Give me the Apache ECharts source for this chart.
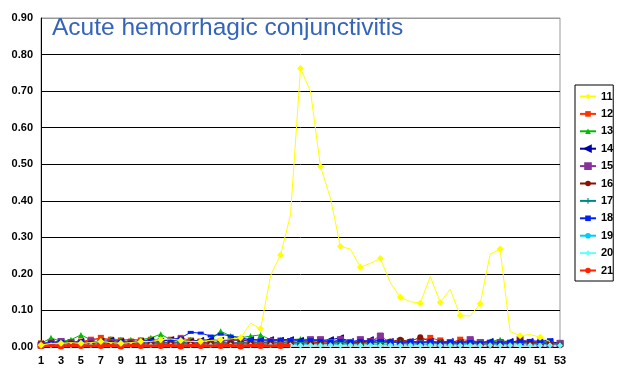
<!DOCTYPE html>
<html><head><meta charset="utf-8">
<script src="https://cdn.jsdelivr.net/npm/echarts@6/dist/echarts.min.js"></script>
<style>html,body{margin:0;padding:0;background:#fff}#c{width:620px;height:384px}</style>
</head><body><div id="c"></div>
<script>
const weeks = Array.from({length:53},(_,i)=>String(i+1));
const title = "Acute hemorrhagic conjunctivitis";
const seriesNames = ["11","12","13","14","15","16","17","18","19","20","21"];
const s11 = [0.005,0.01,0.01,0.012,0.01,0.012,0.015,0.012,0.01,0.012,0.015,0.015,0.02,0.022,0.018,0.015,0.015,0.018,0.02,0.022,0.025,0.065,0.05,0.195,0.252,0.362,0.762,0.70,0.494,0.407,0.275,0.268,0.218,0.229,0.242,0.176,0.136,0.124,0.12,0.193,0.122,0.158,0.086,0.085,0.118,0.254,0.268,0.042,0.031,0.034,0.027,0.015,null];
const s12 = [0.01,0.012,0.015,0.012,0.015,0.02,0.025,0.02,0.018,0.015,0.018,0.02,0.015,0.02,0.025,0.018,0.015,0.012,0.015,0.018,0.02,0.015,0.012,0.015,0.018,0.015,0.012,0.015,0.01,0.012,0.015,0.01,0.012,0.015,0.01,0.012,0.015,0.012,0.018,0.025,0.018,0.012,0.02,0.018,0.01,0.012,0.01,0.012,0.015,0.012,0.015,0.012,0.008];
const s13 = [0.01,0.025,0.015,0.02,0.033,0.02,0.02,0.022,0.02,0.02,0.02,0.025,0.035,0.02,0.015,0.02,0.015,0.02,0.043,0.03,0.025,0.03,0.033,0.02,0.02,0.02,0.022,0.02,0.015,0.015,0.012,0.015,0.012,0.015,0.012,0.015,0.01,0.012,0.015,0.01,0.012,0.01,0.012,0.015,0.012,0.015,0.02,0.012,0.015,0.012,0.01,0.012,0.01];
const s14 = [0.008,0.012,0.015,0.012,0.015,0.012,0.015,0.018,0.015,0.012,0.015,0.018,0.015,0.02,0.018,0.015,0.018,0.02,0.018,0.02,0.018,0.02,0.018,0.02,0.018,0.02,0.018,0.015,0.018,0.02,0.025,0.015,0.012,0.02,0.018,0.015,0.012,0.015,0.012,0.015,0.012,0.015,0.012,0.015,0.012,0.015,0.012,0.015,0.012,0.015,0.012,0.015,0.01];
const s15 = [0.005,0.01,0.015,0.012,0.01,0.015,0.01,0.012,0.01,0.012,0.01,0.012,0.01,0.015,0.012,0.01,0.012,0.01,0.012,0.01,0.012,0.01,0.012,0.015,0.012,0.015,0.012,0.02,0.02,0.012,0.02,0.012,0.02,0.015,0.03,0.012,0.015,0.012,0.015,0.012,0.01,0.012,0.01,0.02,0.012,0.01,0.012,0.01,0.02,0.012,0.01,0.008,0.01];
const s16 = [0.008,0.01,0.012,0.01,0.012,0.01,0.012,0.01,0.012,0.01,0.012,0.01,0.012,0.01,0.012,0.01,0.012,0.01,0.012,0.01,0.012,0.01,0.012,0.01,0.012,0.01,0.012,0.01,0.012,0.01,0.012,0.01,0.012,0.015,0.012,0.015,0.02,0.015,0.027,0.015,0.012,0.01,0.012,0.01,0.008,0.005,0.008,0.01,0.02,0.012,0.01,0.008,0.005];
const s17 = [0.008,0.01,0.012,0.01,0.008,0.01,0.012,0.01,0.008,0.01,0.012,0.01,0.012,0.01,0.012,0.01,0.008,0.01,0.012,0.01,0.012,0.015,0.012,0.01,0.012,0.01,0.012,0.01,0.008,0.01,0.012,0.01,0.008,0.01,0.012,0.015,0.01,0.008,0.01,0.012,0.01,0.008,0.01,0.012,0.01,0.008,0.01,0.012,0.01,0.008,0.01,0.012,0.008];
const s18 = [0.01,0.012,0.015,0.012,0.015,0.012,0.015,0.012,0.015,0.012,0.015,0.018,0.02,0.02,0.025,0.04,0.038,0.03,0.035,0.03,0.025,0.02,0.02,0.018,0.02,0.02,0.018,0.02,0.018,0.015,0.018,0.015,0.018,0.015,0.018,0.015,0.012,0.015,0.012,0.015,0.012,0.015,0.012,0.015,0.012,0.015,0.012,0.015,0.015,0.018,0.015,0.02,null];
const s19 = [0.005,0.006,0.005,0.007,0.006,0.005,0.006,0.007,0.005,0.006,0.005,0.007,0.006,0.005,0.006,0.007,0.005,0.006,0.007,0.006,0.005,0.006,0.007,0.006,0.005,0.006,0.007,0.006,0.005,0.006,0.007,0.006,0.005,0.006,0.007,0.006,0.005,0.006,0.007,0.006,0.005,0.006,0.007,0.006,0.005,0.006,0.007,0.006,0.005,0.006,0.007,0.006,0.005];
const s20 = [0.004,0.005,0.004,0.005,0.004,0.005,0.004,0.005,0.004,0.005,0.004,0.005,0.006,0.005,0.004,0.005,0.004,0.005,0.004,0.005,0.004,0.005,0.004,0.005,0.004,0.005,0.004,0.005,0.004,0.005,0.004,0.005,0.004,0.005,0.004,0.005,0.004,0.005,0.004,0.005,0.004,0.005,0.004,0.005,0.004,0.005,0.004,0.005,0.004,0.005,0.004,0.005,0.004];
const s21 = [0.004,0.004,0.003,0.004,0.004,0.003,0.004,0.004,0.003,0.004,0.004,0.003,0.004,0.004,0.003,0.004,0.004,0.003,0.004,0.004,0.003,0.004,0.004,0.003,0.004,0.004,null,null,null,null,null,null,null,null,null,null,null,null,null,null,null,null,null,null,null,null,null,null,null,null,null,null,null];
const seriesData = [s11,s12,s13,s14,s15,s16,s17,s18,s19,s20,s21];

const colors = ['#FFFF00','#FF3300','#00BB00','#0000AA','#883399','#881100','#008888','#0022EE','#00CCFF','#66FFFF','#FF2200'];
const symbols = ['diamond','rect','triangle','path://M0,5 L10,0 L10,10 Z M0,5 L10,5','path://M0,0 L10,10 M10,0 L0,10 M0,0 L10,0 L10,10 L0,10 Z','circle','path://M4,0 L6,0 L6,4 L10,4 L10,6 L6,6 L6,10 L4,10 L4,6 L0,6 L0,4 L4,4 Z','rect','circle','diamond','circle'];
const symSizes = [7,6,6,6,6,6,7,[6,3],1,6,7];
const widths = [1,1,1,1,1,1,1,1,1,1,3];

const chart = echarts.init(document.getElementById('c'));
chart.setOption({
  animation:false,
  backgroundColor:'#fff',
  title:{text:title,left:52,top:16,padding:0,textStyle:{color:'#3565BA',fontSize:24.5,fontWeight:'normal',fontFamily:'Liberation Sans'}},
  grid:{left:41,right:60,top:18,bottom:37,show:true,borderColor:'#999',borderWidth:1,backgroundColor:'transparent'},
  legend:{orient:'vertical',left:575,top:85,padding:[6,0,5,4],itemGap:6.4,itemWidth:16,itemHeight:7,
    borderColor:'#000',borderWidth:1,backgroundColor:'#fff',
    textStyle:{fontFamily:'Liberation Sans',fontWeight:'bold',fontSize:11,color:'#000'},
    data:seriesNames},
  xAxis:{type:'category',data:weeks,boundaryGap:false,
    axisLine:{lineStyle:{color:'#000',width:1}},axisTick:{show:false},
    axisLabel:{interval:1,color:'#000',fontFamily:'Liberation Sans',fontWeight:'bold',fontSize:11,margin:8},
    splitLine:{show:false}},
  yAxis:{type:'value',min:0,max:0.9,interval:0.1,
    axisLine:{show:true,lineStyle:{color:'#000'}},axisTick:{show:false},
    axisLabel:{color:'#000',fontFamily:'Liberation Sans',fontWeight:'bold',fontSize:11,margin:8,formatter:v=>v.toFixed(2)},
    splitLine:{lineStyle:{color:['#000','#000','#000','#000','#000','#000','#000','#000','#000','#999'],width:1}}},
  series:seriesNames.map((n,i)=>({
    name:n,type:'line',data:seriesData[i],z:i===0?10:(i===10?9:2),
    symbol:symbols[i],symbolSize:symSizes[i],showSymbol:i!==8,
    connectNulls:false,
    lineStyle:{color:colors[i],width:widths[i]},
    itemStyle:{color:colors[i],borderColor:colors[i],borderWidth:i===3||i===4?1:0},
    emphasis:{disabled:true}
  }))
});
</script></body></html>
